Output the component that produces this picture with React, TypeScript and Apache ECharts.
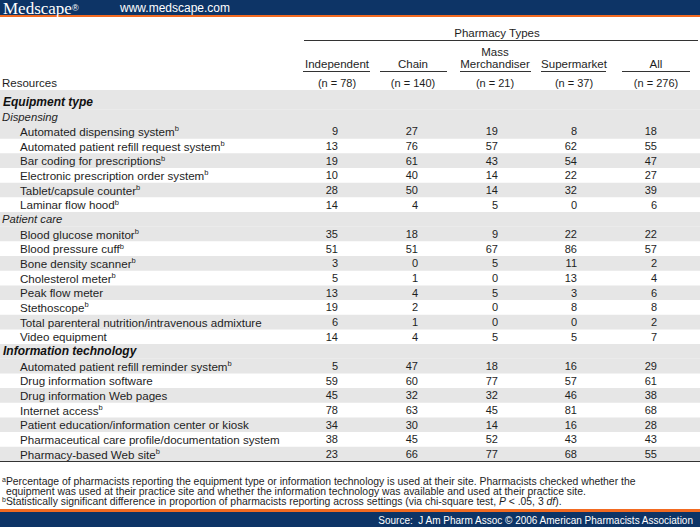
import React, { useEffect, useRef } from "react";
import * as echarts from "echarts";

// ---------- data ----------
const columns = ["Independent", "Chain", "Mass\nMerchandiser", "Supermarket", "All"];
const columnN = ["(n = 78)", "(n = 140)", "(n = 21)", "(n = 37)", "(n = 276)"];
const spanTitle = "Pharmacy Types";
const stubTitle = "Resources";

// kind: S = section (bold italic), G = group (italic), I = item; b = superscript b
const rowLabels = [
  "S|Equipment type",
  "G|Dispensing",
  "I|Automated dispensing system|b",
  "I|Automated patient refill request system|b",
  "I|Bar coding for prescriptions|b",
  "I|Electronic prescription order system|b",
  "I|Tablet/capsule counter|b",
  "I|Laminar flow hood|b",
  "G|Patient care",
  "I|Blood glucose monitor|b",
  "I|Blood pressure cuff|b",
  "I|Bone density scanner|b",
  "I|Cholesterol meter|b",
  "I|Peak flow meter",
  "I|Stethoscope|b",
  "I|Total parenteral nutrition/intravenous admixture",
  "I|Video equipment",
  "S|Information technology",
  "I|Automated patient refill reminder system|b",
  "I|Drug information software",
  "I|Drug information Web pages",
  "I|Internet access|b",
  "I|Patient education/information center or kiosk",
  "I|Pharmaceutical care profile/documentation system",
  "I|Pharmacy-based Web site|b",
];

const independent = [9, 13, 19, 10, 28, 14, 35, 51, 3, 5, 13, 19, 6, 14, 5, 59, 45, 78, 34, 38, 23];
const chain = [27, 76, 61, 40, 50, 4, 18, 51, 0, 1, 4, 2, 1, 4, 47, 60, 32, 63, 30, 45, 66];
const massMerch = [19, 57, 43, 14, 14, 5, 9, 67, 5, 0, 5, 0, 0, 5, 18, 77, 32, 45, 14, 52, 77];
const supermarket = [8, 62, 54, 22, 32, 0, 22, 86, 11, 13, 3, 8, 0, 5, 16, 57, 46, 81, 16, 43, 68];
const allPharm = [18, 55, 47, 27, 39, 6, 22, 57, 2, 4, 6, 8, 2, 7, 29, 61, 38, 68, 28, 43, 55];
const seriesCols = [independent, chain, massMerch, supermarket, allPharm];

const footnoteA1 = "Percentage of pharmacists reporting the equipment type or information technology is used at their site. Pharmacists checked whether the";
const footnoteA2 = "equipment was used at their practice site and whether the information technology was available and used at their practice site.";
const footnoteB1 = "Statistically significant difference in proportion of pharmacists reporting across settings (via chi-square test, ";
const sourceText = "Source:  J Am Pharm Assoc \u00A9 2006 American Pharmacists Association";

// ---------- layout ----------
const W = 700;
const H = 527;
const NAVY = "#0d3466";
const ORANGE = "#f26a21";
const GRAY = "#e6e6e6";
const INK = "#1e1e1e";
const FONT = "'Liberation Sans', Arial, Helvetica, sans-serif";

const colRight = [338, 418, 498, 577, 657];
const colCenter = [337, 413, 495, 574, 656];
const colLine = [
  [303, 370],
  [380, 447],
  [460, 531],
  [541, 606],
  [622, 690],
];
const rowTop = 102;
const rowStep = 14.67;

function buildGraphics() {
  const g: any[] = [];
  // header bar
  g.push({ type: "rect", shape: { x: 0, y: 0, width: W, height: 15 }, style: { fill: NAVY } });
  g.push({ type: "rect", shape: { x: 0, y: 15, width: W, height: 2 }, style: { fill: ORANGE } });
  g.push({
    type: "text",
    x: 3,
    y: 8,
    style: {
      text: "{m|Medscape}{r|\u00AE}",
      rich: {
        m: { fontFamily: "'Liberation Serif', 'Times New Roman', serif", fontSize: 17, fill: "#fff", lineHeight: 15 },
        r: { fontFamily: "'Liberation Sans', Arial, sans-serif", fontSize: 9, fill: "#fff", lineHeight: 15 },
      },
      textVerticalAlign: "middle",
    },
  });
  g.push({
    type: "text",
    x: 120,
    y: 8,
    style: { text: "www.medscape.com", fill: "#fff", font: `12px ${FONT}`, textVerticalAlign: "middle" },
  });

  // row bands
  let dataIdx = 0;
  const bandRows: boolean[] = [];
  let stripe = 0;
  rowLabels.forEach((lab, i) => {
    const kind = lab.split("|")[0];
    if (kind === "S" || kind === "G") {
      bandRows.push(true);
      stripe = 0;
    } else {
      const prevKind = rowLabels[i - 1].split("|")[0];
      if (prevKind !== "I") stripe = 0;
      else stripe++;
      bandRows.push(stripe % 2 === 0);
    }
  });
  bandRows.forEach((on, i) => {
    if (!on) return;
    const cy = rowTop + i * rowStep;
    let y0 = cy - rowStep / 2;
    if (i === 0) y0 = 90;
    g.push({
      type: "rect",
      shape: { x: 0, y: y0, width: W, height: cy + rowStep / 2 - y0 },
      style: { fill: GRAY },
      z: 0,
    });
  });

  // column header
  g.push({
    type: "text",
    x: 497,
    y: 33,
    style: { text: spanTitle, fill: INK, font: `11.5px ${FONT}`, textAlign: "center", textVerticalAlign: "middle" },
  });
  g.push({ type: "line", shape: { x1: 304, y1: 40.5, x2: 698, y2: 40.5 }, style: { stroke: "#333", lineWidth: 1 } });
  columns.forEach((c, k) => {
    const lines = c.split("\n");
    lines.forEach((t, j) => {
      g.push({
        type: "text",
        x: colCenter[k],
        y: 64 - (lines.length - 1 - j) * 12.5,
        style: { text: t, fill: INK, font: `11.5px ${FONT}`, textAlign: "center", textVerticalAlign: "middle" },
      });
    });
    g.push({
      type: "line",
      shape: { x1: colLine[k][0], y1: 71.5, x2: colLine[k][1], y2: 71.5 },
      style: { stroke: "#333", lineWidth: 1 },
    });
    g.push({
      type: "text",
      x: colCenter[k],
      y: 83,
      style: { text: columnN[k], fill: INK, font: `11px ${FONT}`, textAlign: "center", textVerticalAlign: "middle" },
    });
  });
  g.push({
    type: "text",
    x: 2,
    y: 83,
    style: { text: stubTitle, fill: INK, font: `11.5px ${FONT}`, textVerticalAlign: "middle" },
  });

  // rows
  rowLabels.forEach((lab, i) => {
    const [kind, text, sup] = lab.split("|");
    const cy = rowTop + i * rowStep;
    if (kind === "S") {
      g.push({
        type: "text",
        x: 3,
        y: cy,
        z: 5,
        style: {
          text,
          fill: "#111",
          font: `italic bold 12px ${FONT}`,
          textVerticalAlign: "middle",
        },
      });
    } else if (kind === "G") {
      g.push({
        type: "text",
        x: 2,
        y: cy,
        z: 5,
        style: { text, fill: INK, font: `italic 11.3px ${FONT}`, textVerticalAlign: "middle" },
      });
    } else {
      g.push({
        type: "text",
        x: 20,
        y: cy,
        z: 5,
        style: {
          text: sup ? `{t|${text}}{s|${sup}}` : `{t|${text}}`,
          rich: {
            t: { fontFamily: FONT, fontSize: 11.6, fill: INK, lineHeight: 13, verticalAlign: "middle" },
            s: { fontFamily: FONT, fontSize: 7.5, fill: INK, lineHeight: 13, verticalAlign: "top" },
          },
          textVerticalAlign: "middle",
        },
      });
      seriesCols.forEach((arr, k) => {
        g.push({
          type: "text",
          x: colRight[k],
          y: cy,
          z: 5,
          style: {
            text: String(arr[dataIdx]),
            fill: INK,
            font: `11px ${FONT}`,
            textAlign: "right",
            textVerticalAlign: "middle",
          },
        });
      });
      dataIdx++;
    }
  });

  // bottom rule
  g.push({ type: "line", shape: { x1: 0, y1: 461.5, x2: W, y2: 461.5 }, z: 6, style: { stroke: "#333", lineWidth: 1 } });

  // footnotes
  g.push({
    type: "text",
    x: 2,
    y: 481,
    style: {
      text: `{s|a}{t|${footnoteA1}}`,
      rich: {
        t: { fontFamily: FONT, fontSize: 10.4, fill: INK, lineHeight: 11 },
        s: { fontFamily: FONT, fontSize: 7, fill: INK, lineHeight: 11, verticalAlign: "top" },
      },
      textVerticalAlign: "middle",
    },
  });
  g.push({
    type: "text",
    x: 6,
    y: 491,
    style: { text: footnoteA2, fill: INK, font: `10.4px ${FONT}`, textVerticalAlign: "middle" },
  });
  g.push({
    type: "text",
    x: 2,
    y: 501,
    style: {
      text: `{s|b}{t|${footnoteB1}}{i|P}{t| < .05, 3 }{i|df}{t|).}`,
      rich: {
        t: { fontFamily: FONT, fontSize: 10.4, fill: INK, lineHeight: 11 },
        i: { fontFamily: FONT, fontSize: 10.4, fontStyle: "italic", fill: INK, lineHeight: 11 },
        s: { fontFamily: FONT, fontSize: 7, fill: INK, lineHeight: 11, verticalAlign: "top" },
      },
      textVerticalAlign: "middle",
    },
  });

  // bottom bar
  g.push({ type: "rect", shape: { x: 0, y: 509, width: W, height: 3 }, style: { fill: ORANGE } });
  g.push({ type: "rect", shape: { x: 0, y: 512, width: W, height: H - 512 }, style: { fill: NAVY } });
  g.push({
    type: "text",
    x: 693,
    y: 520,
    style: {
      text: sourceText,
      fill: "#fff",
      font: `10px ${FONT}`,
      textAlign: "right",
      textVerticalAlign: "middle",
    },
  });
  return g;
}

export default function App() {
  const ref = useRef<HTMLDivElement>(null);
  useEffect(() => {
    const el = ref.current;
    if (!el) return;
    const chart = echarts.init(el, undefined, { renderer: "svg" });
    chart.setOption({
      animation: false,
      backgroundColor: "#ffffff",
      graphic: { elements: buildGraphics() },
    });
    return () => chart.dispose();
  }, []);
  return (
    <div
      ref={ref}
      style={{ position: "fixed", left: 0, top: 0, width: W, height: H, background: "#fff" }}
    />
  );
}
